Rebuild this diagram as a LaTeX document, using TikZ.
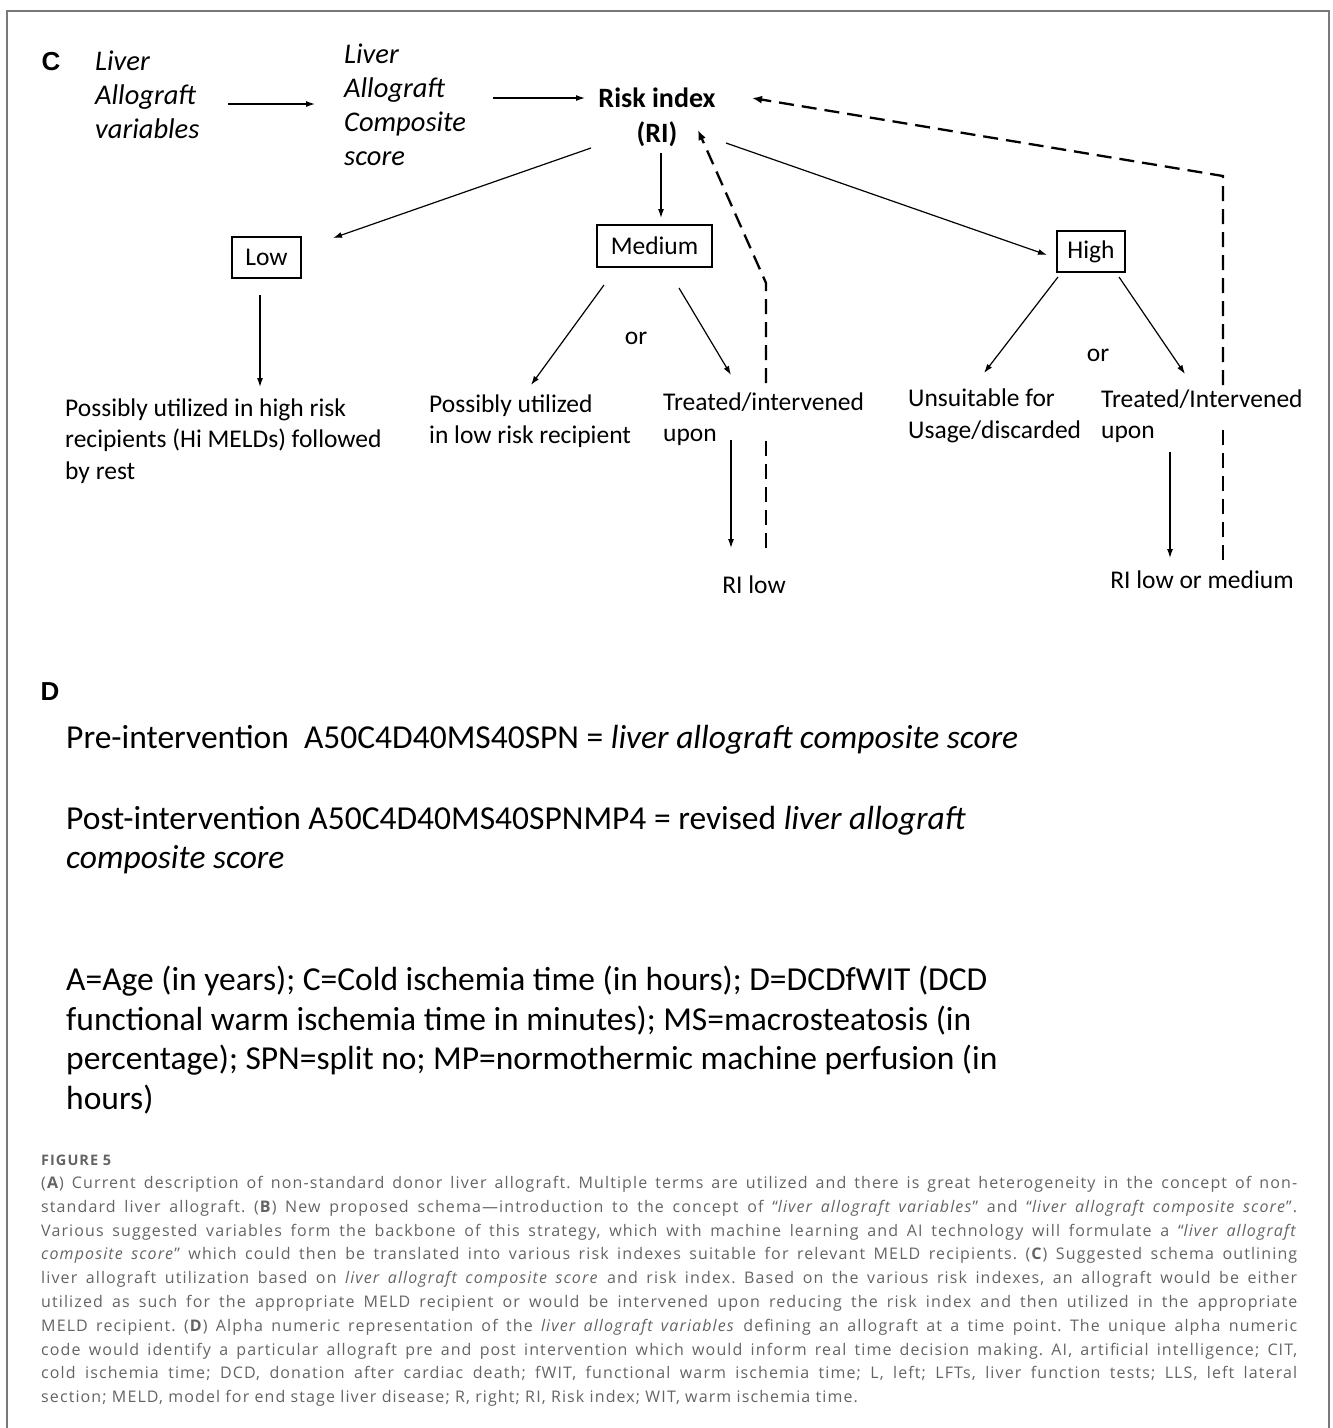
\documentclass[tikz,border=0pt]{standalone}
\usepackage{fontspec}
\setmainfont{Carlito}
\newfontfamily\capfont[LetterSpace=7]{Open Sans}
\newfontfamily\panelfont{Liberation Sans}
\usetikzlibrary{arrows.meta}
\definecolor{capgray}{RGB}{100,100,100}
\definecolor{framegray}{RGB}{120,120,120}
\tikzset{
	flow/.style={line width=1.2pt, -{Latex[length=9pt,width=6pt]}},
	back/.style={line width=2.3pt, dash pattern=on 15pt off 8pt},
	riskbox/.style={draw, line width=1.2pt, inner sep=0pt, font=\fontsize{25.5}{30}\selectfont},
	txt/.style={anchor=west, inner sep=0pt, align=left, font=\fontsize{25.5}{31.5}\selectfont},
	lbl/.style={inner sep=0pt, font=\fontsize{25.5}{30}\selectfont},
	ital/.style={anchor=west, inner sep=0pt, align=left, font=\itshape\fontsize{28.5}{34}\selectfont},
	big/.style={anchor=west, inner sep=0pt, align=left, font=\fontsize{33.5}{39.5}\selectfont},
	panel/.style={inner sep=0pt, font=\panelfont\bfseries\fontsize{26}{30}\selectfont},
}

\begin{document}
\begin{tikzpicture}[x=1pt,y=-1pt]
	%%%%% START %%%%%
	\useasboundingbox (0,0) rectangle (1333,1428);
	\draw[framegray, line width=1.5pt] (7,1440) -- (7,11) -- (1329,11) -- (1329,1440);
	
	% panel C
	\node[panel] (pc) at (51,62) {C};
	\node[ital] (lav) at (95,95) {Liver\\Allograft\\variables};
	\node[ital] (lacs) at (344,105) {Liver\\Allograft\\Composite\\score};
	\node[inner sep=0pt, align=center, font=\bfseries\fontsize{28}{35}\selectfont] (ri) at (657,117) {Risk index\\(RI)};
	
	\draw[flow] ([shift={(133,9)}]lav.west) -- ([shift={(-29,-1)}]lacs.west);
	\draw[flow] ([shift={(149,-7)}]lacs.west) -- ([shift={(-72,-19)}]ri.center);
	
	\node[riskbox, minimum width=69pt, minimum height=41pt] (low) at (266.5,257.5) {Low};
	\node[riskbox, minimum width=115pt, minimum height=42pt] (med) at (654.5,246) {Medium};
	\node[riskbox, minimum width=68pt, minimum height=41pt] (high) at (1091,251.5) {High};
	
	\draw[flow] ([shift={(-66,31)}]ri.center) -- ([shift={(66.5,-19.5)}]low.center);
	\draw[flow] ([shift={(4,36)}]ri.center) -- ([shift={(6.5,-28)}]med.center);
	\draw[flow] ([shift={(69,26)}]ri.center) -- ([shift={(-44,3.5)}]high.center);
	
	\node[txt] (lowtxt) at (65,441) {Possibly utilized in high risk\\recipients (Hi MELDs) followed\\by rest};
	\node[txt] (medl) at (429,421) {Possibly utilized\\in low risk recipient};
	\node[txt] (medr) at (663,419) {Treated/intervened\\upon};
	\node[txt] (highl) at (908,416) {Unsuitable for\\Usage/discarded};
	\node[txt] (highr) at (1101,416) {Treated/Intervened\\upon};
	\node[lbl] (or1) at (636,338) {or};
	\node[lbl] (or2) at (1098,355) {or};
	\node[lbl] (rilow) at (754,585) {RI low};
	\node[lbl] (rilm) at (1202,580) {RI low or medium};
	
	\draw[flow] ([shift={(-6.5,37.5)}]low.center) -- ([shift={(195,-54)}]lowtxt.west);
	\draw[flow] ([shift={(-50.5,39)}]med.center) -- ([shift={(102,-36)}]medl.west);
	\draw[flow] ([shift={(24.5,42)}]med.center) -- ([shift={(68,-44)}]medr.west);
	\draw[flow] ([shift={(68,21)}]medr.west) -- ([shift={(-23,-37)}]rilow.center);
	\draw[flow] ([shift={(-33,25.5)}]high.center) -- ([shift={(76,-43)}]highl.west);
	\draw[flow] ([shift={(28,25.5)}]high.center) -- ([shift={(84,-42)}]highr.west);
	\draw[flow] ([shift={(69,36)}]highr.west) -- ([shift={(-32,-22)}]rilm.center);
	
	% feedback to the risk index, broken where it passes the text
	\coordinate (gap1lo) at (766,440);
	\coordinate (gap1hi) at (766,383);
	\coordinate (bend1) at (766,283);
	\coordinate (gap2lo) at (1223,427);
	\coordinate (gap2hi) at (1223,385);
	\coordinate (bend2) at (1223,176);
	\draw[back] ([shift={(12,-37)}]rilow.center) -- (gap1lo);
	\draw[back, -{Latex[length=10pt,width=8pt]}] (gap1hi) -- (bend1) -- ([shift={(41,13)}]ri.center);
	\draw[back] ([shift={(21,-20)}]rilm.center) -- (gap2lo);
	\draw[back, -{Latex[length=10pt,width=8pt]}] (gap2hi) -- (bend2) -- ([shift={(95,-19)}]ri.center);
	
	% panel D
	\node[panel] (pd) at (50,692) {D};
	\node[big] (pre) at (66,740) {Pre-intervention\ \ A50C4D40MS40SPN = \textit{liver allograft composite score}};
	\node[big] (post) at (66,840) {Post-intervention A50C4D40MS40SPNMP4 = revised \textit{liver allograft}\\\textit{composite score}};
	\node[big] (defs) at (66,1040) {A=Age (in years); C=Cold ischemia time (in hours); D=DCDfWIT (DCD\\functional warm ischemia time in minutes); MS=macrosteatosis (in\\percentage); SPN=split no; MP=normothermic machine perfusion (in\\hours)};
	
	% caption
	\node[anchor=west, inner sep=0pt, text=capgray, font=\capfont\bfseries\fontsize{14.5}{17}\selectfont] (fig) at (41,1160) {FIGURE 5};
	\node[anchor=north west, inner sep=0pt, text width=1256pt, align=justify, text=capgray, font=\capfont\fontsize{16}{23.8}\selectfont] (cap) at (41,1176) {\hyphenpenalty=10000\frenchspacing
		(\textbf{A}) Current description of non-standard donor liver allograft. Multiple terms are utilized and there is great heterogeneity in the concept of non-\linebreak
		standard liver allograft. (\textbf{B}) New proposed schema—introduction to the concept of “\textit{liver allograft variables}” and “\textit{liver allograft composite score}”.\linebreak
		Various suggested variables form the backbone of this strategy, which with machine learning and AI technology will formulate a “\textit{liver allograft}\linebreak
		\textit{composite score}” which could then be translated into various risk indexes suitable for relevant MELD recipients. (\textbf{C}) Suggested schema outlining\linebreak
		liver allograft utilization based on \textit{liver allograft composite score} and risk index. Based on the various risk indexes, an allograft would be either\linebreak
		utilized as such for the appropriate MELD recipient or would be intervened upon reducing the risk index and then utilized in the appropriate\linebreak
		MELD recipient. (\textbf{D}) Alpha numeric representation of the \textit{liver allograft variables} defining an allograft at a time point. The unique alpha numeric\linebreak
		code would identify a particular allograft pre and post intervention which would inform real time decision making. AI, artificial intelligence; CIT,\linebreak
		cold ischemia time; DCD, donation after cardiac death; fWIT, functional warm ischemia time; L, left; LFTs, liver function tests; LLS, left lateral\linebreak
		section; MELD, model for end stage liver disease; R, right; RI, Risk index; WIT, warm ischemia time.};
	
	%%%%% END %%%%%
\end{tikzpicture}
\end{document}
